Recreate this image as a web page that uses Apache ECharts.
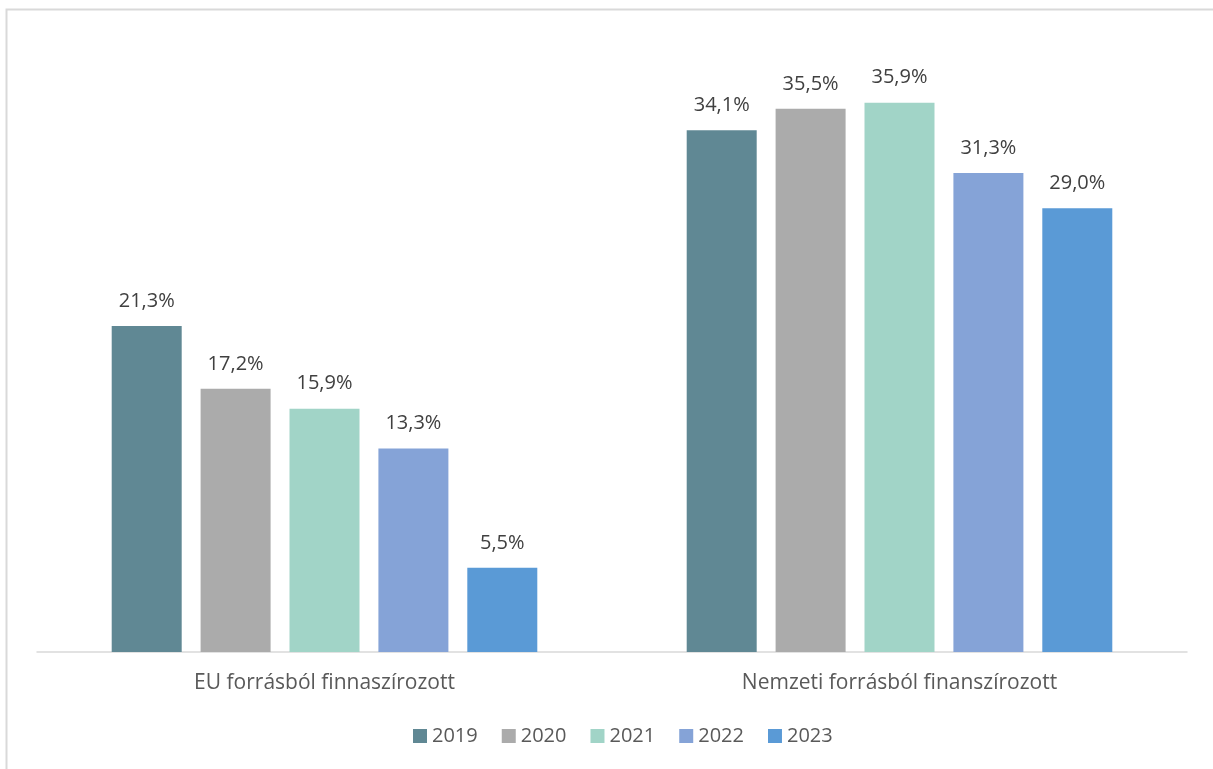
<!DOCTYPE html>
<html><head><meta charset="utf-8">
<script src="https://cdn.jsdelivr.net/npm/echarts@6/dist/echarts.min.js"></script>
<style>html,body{margin:0;padding:0;background:#fff}#c{width:1213px;height:769px}</style>
</head><body><div id="c"></div>
<script>
const categories = ['EU forrásból finnaszírozott', 'Nemzeti forrásból finanszírozott'];
const years = ['2019', '2020', '2021', '2022', '2023'];
const v2019 = [21.3, 34.1];
const v2020 = [17.2, 35.5];
const v2021 = [15.9, 35.9];
const v2022 = [13.3, 31.3];
const v2023 = [5.5, 29.0];
const colors = ['#608894', '#ababab', '#a1d4c7', '#85a3d7', '#5a9ad6'];
const values = [v2019, v2020, v2021, v2022, v2023];
const font = '"Open Sans", sans-serif';
const chart = echarts.init(document.getElementById('c'));
chart.setOption({
  animation: false,
  graphic: [{type: 'rect', shape: {x: 6.5, y: 9.5, width: 1220, height: 800}, style: {fill: 'none', stroke: '#d9d9d9', lineWidth: 2}, silent: true}],
  grid: {left: 37, right: 26, top: 40, bottom: 117},
  legend: {
    bottom: 18, left: 408, itemWidth: 14, itemHeight: 14, itemGap: 24,
    icon: 'rect',
    textStyle: {fontFamily: font, fontSize: 20, color: '#595959'},
    data: years
  },
  xAxis: {
    type: 'category', data: categories,
    axisLine: {lineStyle: {color: '#d9d9d9', width: 1.5}},
    axisTick: {show: false},
    axisLabel: {fontFamily: font, fontSize: 21, color: '#595959', margin: 21}
  },
  yAxis: {type: 'value', min: 0, max: 40, show: false, splitLine: {show: false}},
  series: years.map((y, i) => ({
    name: y, type: 'bar', data: values[i], barWidth: 70, barGap: '27%',
    itemStyle: {color: colors[i]},
    label: {show: true, position: 'top', distance: 15, fontFamily: font, fontSize: 20, color: '#404040',
      formatter: p => p.value.toFixed(1).replace('.', ',') + '%'}
  }))
});
</script></body></html>
